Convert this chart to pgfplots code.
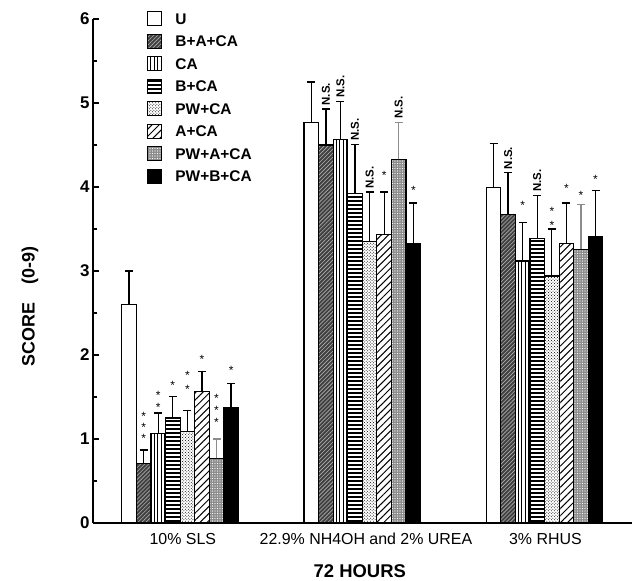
\documentclass[border=0pt]{standalone}
\usepackage{fontspec}
\setmainfont{Liberation Sans}
\usepackage{pgfplots}
\pgfplotsset{compat=1.18}
\usetikzlibrary{patterns,patterns.meta}

\newcommand\st[2]{\node[font=\fontsize{12}{12}\selectfont, anchor=base, yshift=-7bp, inner sep=0pt] at (axis cs:#1,#2) {*};}
\newcommand\ns[2]{\node[font=\bfseries\fontsize{11.5}{11.5}\selectfont, rotate=90, anchor=west, inner sep=0pt] at (axis cs:#1,#2) {N.S.};}

\pgfplotsset{
  mybar/.style={ybar, bar width=0.08, bar shift=0pt, draw=black, line width=1.2bp,
    legend image code/.code={\draw[##1, line width=1bp] (0bp,-7bp) rectangle (14bp,7bp);},
    /pgfplots/error bars/y dir=plus,
    /pgfplots/error bars/y explicit,
    /pgfplots/error bars/error bar style={line width=1.3bp, black},
    /pgfplots/error bars/error mark options={rotate=90, mark size=4bp, line width=1.3bp, black}},
}

\begin{document}
\begin{tikzpicture}
\begin{axis}[
  scale only axis, width=539bp, height=504bp,
  xmin=0.522, xmax=3.48, ymin=0, ymax=6,
  axis lines*=left,
  axis line style={line width=1.6bp},
  ytick={0,1,...,6}, minor ytick={0.5,1.5,...,5.5},
  tick align=inside, major tick length=6bp, minor tick length=4bp,
  tick style={line width=1.2bp, black},
  xtick={1.015,2.02,3.005},
  xticklabels={10\% SLS, 22.9\% NH4OH and 2\% UREA, 3\% RHUS},
  x tick style={draw=none},
  xticklabel style={font=\fontsize{16}{16}\selectfont, anchor=center, yshift=-16bp},
  yticklabel style={font=\bfseries\fontsize{17}{17}\selectfont},
  /pgf/number format/assume math mode=true,
  xlabel={72 HOURS},
  xlabel style={font=\bfseries\fontsize{18.5}{18.5}\selectfont, at={(rel axis cs:0.495,-0.096)}, anchor=center},
  ylabel={SCORE\quad(0-9)},
  ylabel style={font=\bfseries\fontsize{18}{18}\selectfont, at={(rel axis cs:-0.117,0.43)}, anchor=center},
  legend style={at={(rel axis cs:0.095,1.02)}, anchor=north west, draw=none, fill=none,
    font=\bfseries\fontsize{15.5}{15.5}\selectfont, row sep=7.5bp,
    nodes={inner sep=2bp, text height=11bp, text depth=0bp},
    /tikz/every odd column/.append style={column sep=11bp}},
  legend cell align=left,
  clip=false,
]
\coordinate (O) at (rel axis cs:0,0);

% U
\addplot[mybar, fill=white] coordinates {(0.72,2.6) +- (0,0.4) (1.72,4.77) +- (0,0.48) (2.72,3.99) +- (0,0.53)};
\addlegendentry{U}
% B+A+CA
\addplot[mybar, fill=black!75, postaction={pattern={Lines[angle=45,distance=2.8bp,line width=0.6bp]}, pattern color=white!70!black}] coordinates {(0.80,0.71) +- (0,0.16) (1.80,4.5) +- (0,0.43) (2.80,3.67) +- (0,0.5)};
\addlegendentry{B+A+CA}
% CA
\addplot[mybar, fill=white, postaction={pattern={Lines[angle=90,distance=3.5bp,line width=0.8bp]}}] coordinates {(0.88,1.07) +- (0,0.24) (1.88,4.57) +- (0,0.45) (2.88,3.12) +- (0,0.46)};
\addlegendentry{CA}
% B+CA
\addplot[mybar, fill=white, postaction={pattern={Lines[angle=0,distance=4bp,line width=1.1bp]}}] coordinates {(0.96,1.25) +- (0,0.26) (1.96,3.92) +- (0,0.59) (2.96,3.39) +- (0,0.51)};
\addlegendentry{B+CA}
% PW+CA
\addplot[mybar, fill=white, postaction={pattern=crosshatch dots}] coordinates {(1.04,1.09) +- (0,0.25) (2.04,3.35) +- (0,0.59) (3.04,2.94) +- (0,0.56)};
\addlegendentry{PW+CA}
% A+CA
\addplot[mybar, fill=white, postaction={pattern={Lines[angle=45,distance=5bp,line width=1bp]}}] coordinates {(1.12,1.57) +- (0,0.23) (2.12,3.43) +- (0,0.51) (3.12,3.33) +- (0,0.48)};
\addlegendentry{A+CA}
% PW+A+CA
\addplot[mybar, fill=black!45, postaction={pattern={Dots[distance=2.5bp,radius=0.6bp]}, pattern color=white}, /pgfplots/error bars/error bar style={line width=1.1bp, black!45}, /pgfplots/error bars/error mark options={rotate=90, mark size=4bp, line width=1.1bp, black!45}] coordinates {(1.20,0.77) +- (0,0.23) (2.20,4.33) +- (0,0.44) (3.20,3.26) +- (0,0.53)};
\addlegendentry{PW+A+CA}
% PW+B+CA
\addplot[mybar, fill=black] coordinates {(1.28,1.37) +- (0,0.29) (2.28,3.33) +- (0,0.48) (3.28,3.41) +- (0,0.55)};
\addlegendentry{PW+B+CA}

% group 1 annotations
\st{0.80}{1.04}\st{0.80}{1.175}\st{0.80}{1.306}
\st{0.88}{1.413}\st{0.88}{1.551}
\st{0.96}{1.675}
\st{1.04}{1.63}\st{1.04}{1.794}
\st{1.12}{1.98}
\st{1.20}{1.238}\st{1.20}{1.377}\st{1.20}{1.512}
\st{1.28}{1.85}
% group 2
\ns{1.80}{4.97}
\ns{1.88}{5.06}
\ns{1.96}{4.55}
\ns{2.04}{3.98}
\st{2.12}{4.17}
\ns{2.20}{4.81}
\st{2.28}{4.0}
% group 3
\ns{2.80}{4.21}
\st{2.88}{3.81}
\ns{2.96}{3.94}
\st{3.04}{3.575}\st{3.04}{3.74}
\st{3.12}{4.02}
\st{3.20}{3.94}
\st{3.28}{4.12}
\end{axis}
\pgfresetboundingbox
\path (O) ++(-93bp,-58bp) rectangle ++(635bp,581bp);
\end{tikzpicture}
\end{document}
